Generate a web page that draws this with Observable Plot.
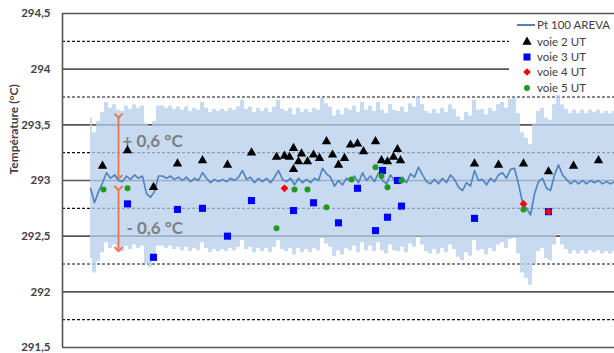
<!DOCTYPE html>
<html><head><meta charset="utf-8">
<script src="https://cdn.jsdelivr.net/npm/d3@7"></script>
<script src="https://cdn.jsdelivr.net/npm/@observablehq/plot@0.6"></script>
<style>
body{margin:0;background:#fff;font-family:Lato,"Open Sans",sans-serif;}
#wrap{position:relative;width:614px;height:353px;overflow:hidden;}
#legend{position:absolute;left:509px;top:15px;width:105px;height:80px;background:#fff;}
.row{position:absolute;left:0;height:16px;width:105px;}
.row svg{position:absolute;left:8px;top:0;}
.row span{position:absolute;left:28px;top:0;line-height:16px;font-size:11.5px;color:#404040;white-space:nowrap;}
</style></head><body><div id="wrap"></div>
<script>
// Pt 100 AREVA reference temperature (one sample per index)
const pt100 = [
 292.93,292.80,292.90,292.98,293.07,293.02,293.05,293.00,292.99,293.04,
 293.01,293.05,293.02,293.04,292.88,292.85,292.90,293.04,293.04,293.02,
 293.04,293.01,293.03,293.00,293.03,292.99,293.02,293.00,293.07,293.02,
 292.98,293.01,292.99,293.01,292.99,293.02,293.00,293.03,293.09,293.01,
 293.03,292.98,293.02,292.99,293.02,292.98,293.03,293.09,293.01,292.99,
 293.02,292.96,293.02,292.98,293.01,292.98,293.02,293.00,293.11,293.06,
 293.03,292.95,293.00,292.96,293.02,293.00,293.04,292.98,293.07,293.00,
 293.04,292.99,293.07,293.00,292.97,293.05,293.00,292.99,293.03,292.98,
 293.06,293.03,293.12,293.05,292.99,292.97,293.01,292.97,293.02,292.98,
 293.05,293.01,292.94,292.91,292.98,292.95,293.09,293.00,293.01,292.96,
 293.02,292.99,293.05,293.07,293.02,293.10,293.11,292.97,292.80,292.75,
 292.69,292.88,292.99,293.02,292.93,292.91,293.05,293.14,293.05,293.01,
 292.97,293.00,292.97,293.00,292.97,293.00,292.98,293.00,292.97,292.99,
 292.97,292.99];
const pt100Error = 0.63;

// voie 2 UT (triangles)
const voie2X = [3,9.25,15.75,21.75,28,34.25,40.25,46.5,48.5,49.75,50.75,50.75,52,52.75,54.25,55.75,57.25,59,60.5,62,63.5,65,66.75,68.25,71.25,72.75,74.25,75.75,76.75,77.5,96,102,108.25,114.5,120.75,127];
const voie2Y = [293.13,293.27,292.94,293.15,293.18,293.14,293.25,293.21,293.22,293.21,293.29,293.10,293.17,293.24,293.17,293.23,293.20,293.35,293.23,293.14,293.20,293.32,293.33,293.26,293.35,293.18,293.17,293.21,293.28,293.18,293.15,293.14,293.15,293.08,293.13,293.18];
// voie 3 UT (squares)
const voie3X = [9.25,15.75,21.75,28,34.25,40.25,50.75,55.75,62,66.75,71.25,73,74.25,76.75,77.75,96,114.5];
const voie3Y = [292.79,292.31,292.74,292.75,292.50,292.82,292.73,292.80,292.62,292.93,292.55,293.09,292.67,293.00,292.77,292.66,292.72];
// voie 4 UT (diamonds)
const voie4X = [48.5,108.25,114.5];
const voie4Y = [292.93,292.79,292.72];
// voie 5 UT (circles)
const voie5X = [3.25,9.25,46.5,51,54.25,59,65.25,71.25,72.75,74.25,77.75,108.25];
const voie5Y = [292.92,292.93,292.57,292.92,292.92,292.76,293.01,293.12,293.04,292.94,293.00,292.74];

// axis ticks and grid
const yTicks = [291.5,292,292.5,293,293.5,294,294.5];
const dashedGrid = [291.75,292.25,292.75,293.25,293.75,294.25];
const xDomain = [-7,131];

// annotations
const arrowX = [7,7];
const arrowFrom = [293.58,292.93];
const arrowTo = [293.03,292.38];
const noteX = [8,9];
const noteY = [293.35,292.57];
const noteText = ["+ 0,6 °C","- 0,6 °C"];

const legendLabels = ["Pt 100 AREVA","voie 2 UT","voie 3 UT","voie 4 UT","voie 5 UT"];

const series = pt100.map((v,i)=>({t:i,v}));
const pts = (xs,ys)=>xs.map((x,i)=>({t:x,v:ys[i]}));
const arrows = arrowX.map((x,i)=>({t:x,from:arrowFrom[i],to:arrowTo[i]}));
const notes = noteX.map((x,i)=>({t:x,v:noteY[i],label:noteText[i]}));

const colors = {line:"#4f81bd", v2:"#000000", v3:"#0000ff", v4:"#ff0000", v5:"#1f9a1f"};

const plot = Plot.plot({
  width:614, height:353, marginLeft:62, marginRight:0, marginTop:13, marginBottom:6,
  x:{domain:xDomain, axis:null},
  y:{domain:[291.5,294.5], axis:null},
  style:{fontFamily:"Lato, 'Open Sans', sans-serif", background:"transparent", color:"#404040"},
  marks:[
    Plot.ruleY(dashedGrid,{stroke:"#111", strokeWidth:1.2, strokeDasharray:"3,2"}),
    Plot.ruleY(yTicks,{stroke:"#555", strokeWidth:1.6}),
    Plot.areaY(series,{x:"t", y1:d=>d.v-pt100Error, y2:d=>d.v+pt100Error, curve:"step", fill:"#b4cdeb", fillOpacity:0.75}),
    Plot.ruleX([xDomain[0]],{stroke:"#555", strokeWidth:1.6}),
    Plot.link(arrows,{x1:"t",x2:"t",y1:"from",y2:"to",stroke:"#f2704c",strokeWidth:1.8,markerStart:"arrow",markerEnd:"arrow"}),
    Plot.text(notes,{x:"t",y:"v",text:"label",textAnchor:"start",fontSize:17,fontWeight:"bold",fill:"#7f7f7f"}),
    Plot.lineY(series,{x:"t",y:"v",stroke:colors.line,strokeWidth:1.6}),
    Plot.dot(pts(voie2X,voie2Y),{x:"t",y:"v",symbol:"triangle",r:3.5,fill:colors.v2}),
    Plot.dot(pts(voie3X,voie3Y),{x:"t",y:"v",symbol:"square",r:4,fill:colors.v3}),
    Plot.dot(pts(voie4X,voie4Y),{x:"t",y:"v",symbol:"diamond2",r:3.5,fill:colors.v4}),
    Plot.dot(pts(voie5X,voie5Y),{x:"t",y:"v",symbol:"circle",r:3,fill:colors.v5}),
    Plot.axisY(yTicks,{tickSize:0, tickPadding:12, fontSize:11.5, fontWeight:"bold", tickFormat:d=>String(d).replace(".",","), label:null}),
    Plot.text(["Température (°C)"],{frameAnchor:"left", rotate:-90, dx:-48, dy:-6, fontSize:12, fontWeight:"bold", fill:"#404040"})
  ]
});
const wrap = document.getElementById("wrap");
wrap.appendChild(plot);

// legend
const legend = document.createElement("div");
legend.id = "legend";
const symbolsL = [null, d3.symbolTriangle, d3.symbolSquare, d3.symbolDiamond2, d3.symbolCircle];
const sizesL = [0, 38, 50, 38, 28];
const fillsL = [colors.line, colors.v2, colors.v3, colors.v4, colors.v5];
const centers = [10,27,42,57,73];
legendLabels.forEach((lab,i)=>{
  const row = document.createElement("div");
  row.className = "row";
  row.style.top = (centers[i]-8)+"px";
  let svg;
  if (i===0) {
    svg = `<svg width="20" height="16"><line x1="0" x2="18" y1="8" y2="8" stroke="${fillsL[0]}" stroke-width="2"/></svg>`;
  } else {
    const p = d3.symbol(symbolsL[i], sizesL[i])();
    svg = `<svg width="20" height="16"><path transform="translate(10,8)" d="${p}" fill="${fillsL[i]}"/></svg>`;
  }
  row.innerHTML = svg + `<span>${lab}</span>`;
  legend.appendChild(row);
});
wrap.appendChild(legend);
</script>
</body></html>
